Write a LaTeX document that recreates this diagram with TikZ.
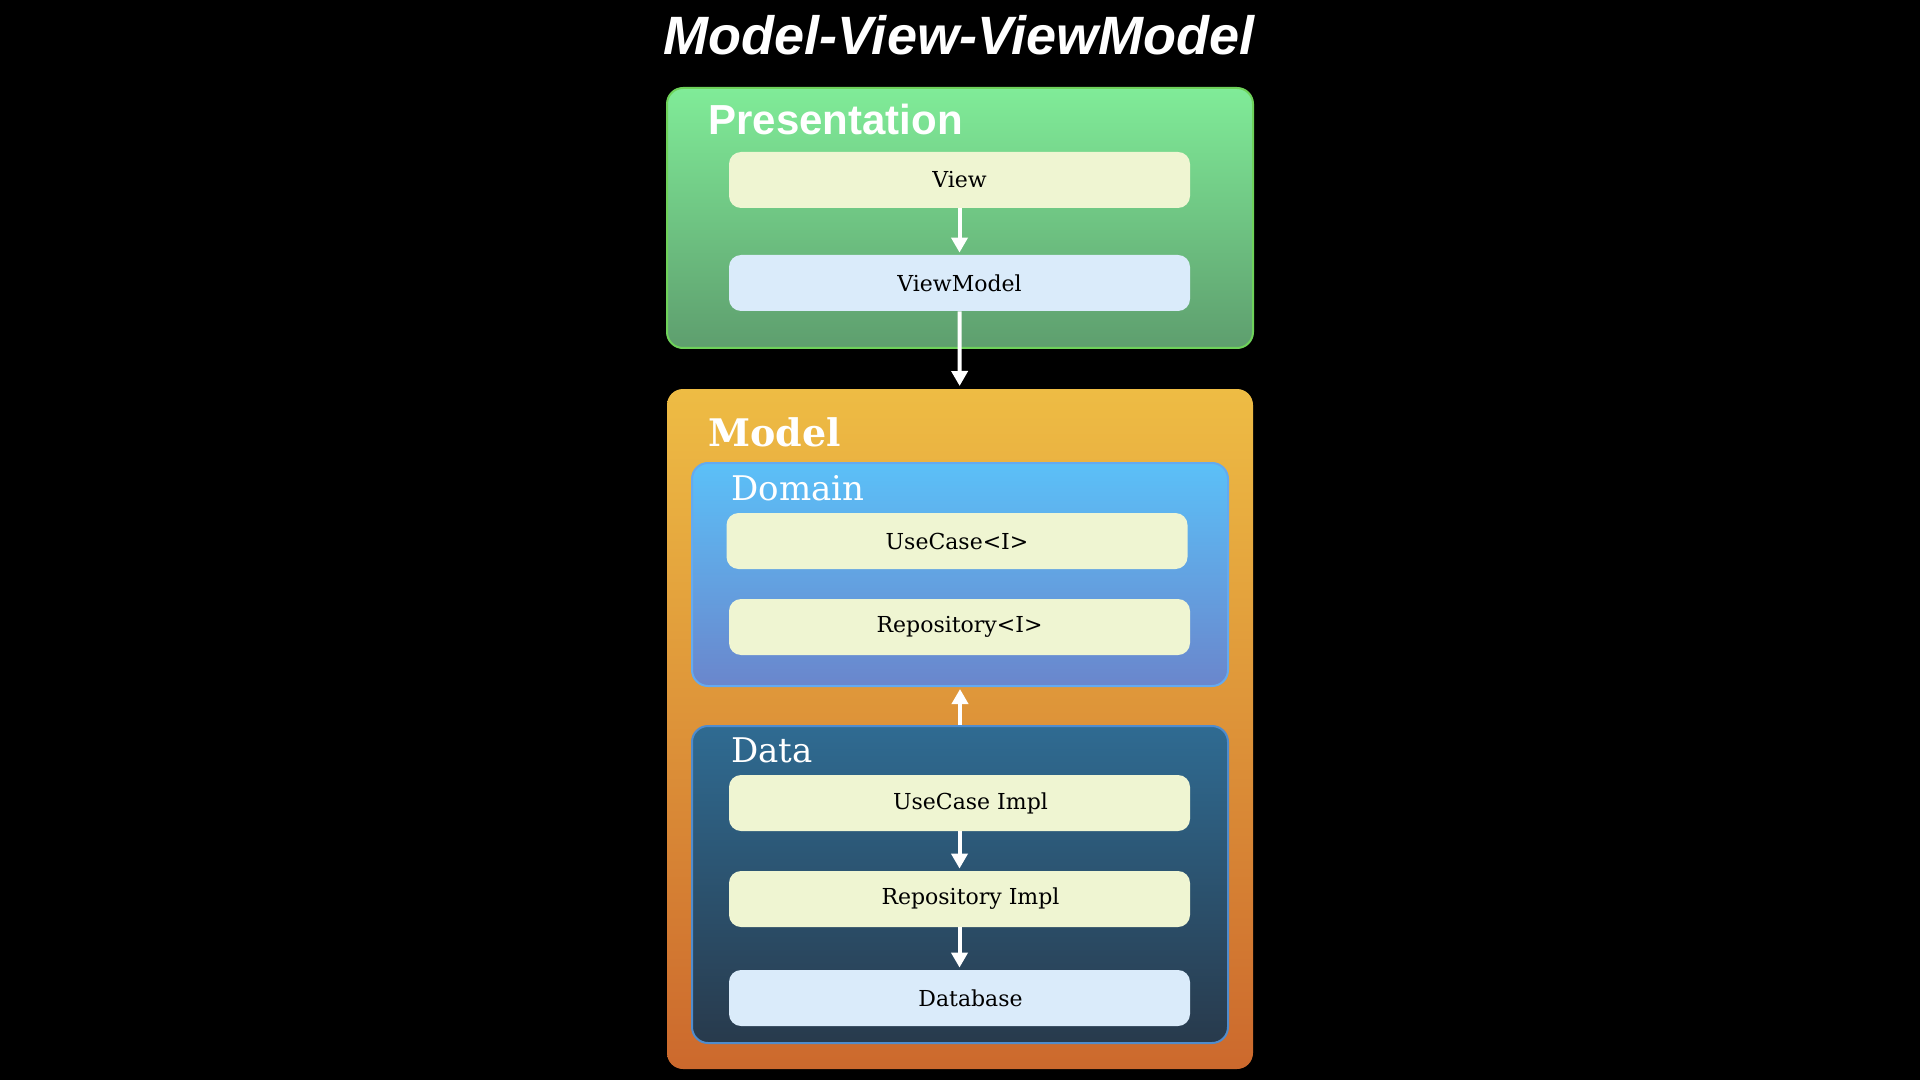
\documentclass[tikz,border=0pt]{standalone}
\usepackage{fontspec}
\setmainfont{DejaVu Serif}
\newfontfamily\helv{Liberation Sans}
\usetikzlibrary{arrows.meta}
\definecolor{presTop}{RGB}{128,236,152}
\definecolor{presBot}{RGB}{94,158,110}
\definecolor{presLine}{RGB}{110,210,90}
\definecolor{modTop}{RGB}{238,188,68}
\definecolor{modBot}{RGB}{204,105,45}
\definecolor{domTop}{RGB}{91,192,248}
\definecolor{domBot}{RGB}{106,134,204}
\definecolor{domLine}{RGB}{100,170,240}
\definecolor{datTop}{RGB}{47,107,146}
\definecolor{datBot}{RGB}{40,58,76}
\definecolor{datLine}{RGB}{80,140,205}
\definecolor{cream}{RGB}{239,245,210}
\definecolor{paleblue}{RGB}{218,235,250}
\begin{document}
\begin{tikzpicture}[x=0.5pt,y=-0.5pt,
  group/.style={rounded corners=8pt, inner sep=0pt, line width=1pt},
  item/.style={rounded corners=6pt, inner sep=0pt, minimum width=230.5pt, minimum height=28pt,
     font=\fontsize{11}{13}\selectfont, text=black},
  creambox/.style={item, fill=cream},
  bluebox/.style={item, fill=paleblue},
  sublabel/.style={font=\fontsize{17}{20}\selectfont, text=white, anchor=base west, inner sep=0pt},
  flow/.style={draw=white, line width=2pt, shorten >=1pt, -{Triangle[width=8pt,length=7.5pt]}}
]
\fill[black] (0,0) rectangle (1920,1080);
\useasboundingbox (0,0) rectangle (1920,1080);

\node[font=\helv\bfseries\itshape\fontsize{27}{30}\selectfont, text=white, anchor=base, inner sep=0pt]
  (title) at (959,55) {Model-View-ViewModel};

% Presentation
\node[group, draw=presLine, top color=presTop, bottom color=presBot,
  minimum width=293pt, minimum height=130pt] (pres) at (960,218) {};
\node[font=\helv\bfseries\fontsize{21}{24}\selectfont, text=white, anchor=base west, inner sep=0pt]
  (presl) at (708,135) {Presentation};
\node[creambox] (view) at (959.5,180) {View};
\node[bluebox] (vm) at (959.5,283) {ViewModel};

% Model
\node[group, top color=modTop, bottom color=modBot,
  minimum width=293pt, minimum height=340pt] (model) at (960,729) {};
\node[font=\bfseries\fontsize{19}{22}\selectfont, text=white, anchor=base west, inner sep=0pt]
  (modell) at (708,446) {Model};

% Domain
\node[group, draw=domLine, top color=domTop, bottom color=domBot,
  minimum width=268pt, minimum height=111.5pt] (domain) at (960,574.5) {};
\node[sublabel] (doml) at (731,500) {Domain};
\node[creambox] (uc) at (957,541) {UseCase<I>};
\node[creambox] (repo) at (959.5,627) {Repository<I>};

% Data
\node[group, draw=datLine, top color=datTop, bottom color=datBot,
  minimum width=268pt, minimum height=158.5pt] (data) at (960,884.5) {};
\node[sublabel] (datal) at (731,762) {Data};
\node[creambox] (uci) at (959.5,803) {\hspace*{11pt}UseCase Impl};
\node[creambox] (repoi) at (959.5,899) {\hspace*{11pt}Repository Impl};
\node[bluebox] (db) at (959.5,998) {\hspace*{11pt}Database};

% Connectors
\draw[flow] (view) -- (vm);
\draw[flow] (vm) -- (model);
\draw[flow] (data) -- (domain);
\draw[flow] (uci) -- (repoi);
\draw[flow] (repoi) -- (db);
\end{tikzpicture}
\end{document}
